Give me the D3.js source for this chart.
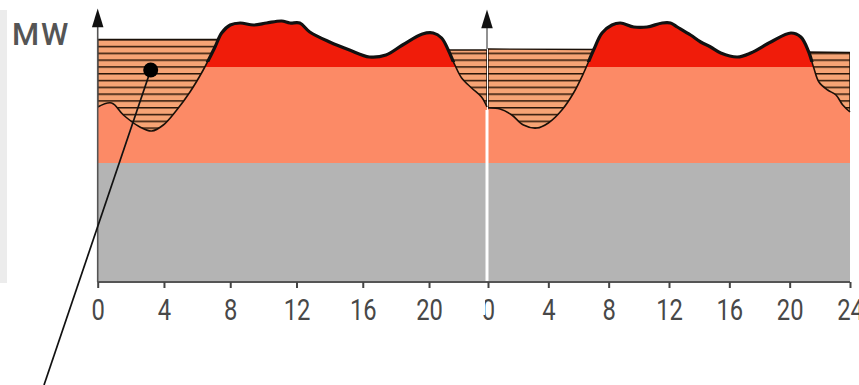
<!DOCTYPE html>
<html>
<head>
<meta charset="utf-8">
<script src="https://cdn.jsdelivr.net/npm/d3@7"></script>
<style>
  body { margin: 0; background: #fff; }
  text { font-family: Roboto, "Liberation Sans", sans-serif; }
</style>
</head>
<body>
<script>
// load curve, day 1 (ends a bit before 24h where day 2 starts)
const hours1 = [0, 0.84, 1.55, 2.55, 3.26, 3.96, 4.77, 5.57, 6.37, 7.08, 7.48, 8.0, 8.6, 9.4, 10.2, 11.1, 11.6, 12.2, 12.8, 14.0, 15.2, 16.4, 17.4, 18.4, 19.6, 20.25, 20.76, 21.16, 21.56, 21.97, 22.57, 23.17, 23.5];
const load1 = [175, 179, 167, 155, 151, 157, 172, 190, 212, 235, 249, 257, 259, 257, 259, 261, 259, 259, 250, 240, 232, 225, 227, 237, 248, 249, 244, 232, 217, 204, 194, 185, 175];

// load curve, day 2
const hours2 = [0, 0.8, 1.58, 2.35, 3.24, 4.0, 4.9, 5.67, 6.34, 7.0, 7.56, 8.22, 8.78, 9.66, 10.55, 11.55, 12.1, 12.55, 13.43, 14.1, 14.76, 15.43, 16.54, 17.42, 18.75, 20.08, 20.74, 21.24, 21.6, 21.94, 22.52, 23.07, 23.52, 24];
const load2 = [174, 173, 167, 157, 154, 159, 172, 189, 209, 232, 249, 257, 259, 255, 255, 259, 259, 255, 247, 240, 235, 229, 225, 229, 240, 249, 245, 231, 214, 200, 192, 187, 177, 170];

// reference level (top of the hatched band), night periods only (null = gap)
const refHours1 = [0, 7.6, 14, 20.8, 23.5];
const refLevel1 = [242.5, 242.5, null, 232, 232];
const refHours2 = [0, 7.2, 14, 21, 24];
const refLevel2 = [233, 232.5, null, 230, 229.5];

// flat levels
const baseLoad = 119;
const midLoad = 215;

const ticks1 = [0, 4, 8, 12, 16, 20];
const ticks2 = [0, 4, 8, 12, 16, 20, 24];

// pointer annotation (day 1 hours, MW)
const pointer = [{ h: 3.2, v: 212 }, { h: -3.24, v: -103 }];

const W = 859, H = 385;
const svg = d3.select("body").append("svg")
  .attr("width", W)
  .attr("height", H);

const x1 = d3.scaleLinear().domain([0, 24]).range([97.7, 495.3]);
const x2 = d3.scaleLinear().domain([0, 24]).range([488, 850]);
const y = d3.scaleLinear().domain([0, 260]).range([282, 22]);

// hatch pattern
const defs = svg.append("defs");
const pat = defs.append("pattern")
  .attr("id", "hatch")
  .attr("patternUnits", "userSpaceOnUse")
  .attr("width", 10)
  .attr("height", 6.8)
  .attr("y", 39);
pat.append("rect").attr("width", 10).attr("height", 6.8).attr("fill", "#f6a475");
pat.append("rect").attr("width", 10).attr("height", 1.5).attr("fill", "#2a1608");

// clip for the thick top outline
defs.append("clipPath").attr("id", "topband")
  .append("rect").attr("x", 0).attr("y", 0).attr("width", W).attr("height", y(220));

// light panel on the far left
svg.append("rect")
  .attr("x", 0).attr("y", 10)
  .attr("width", 7).attr("height", 273)
  .attr("fill", "#ececec");

const days = [
  { id: 1, x: x1, hours: hours1, load: load1, refH: refHours1, refV: refLevel1 },
  { id: 2, x: x2, hours: hours2, load: load2, refH: refHours2, refV: refLevel2 }
];

const smooth = d3.curveCatmullRom.alpha(0.5);

days.forEach(day =>
{
  const pts = day.hours.map((h, i) => ({ h: h, v: day.load[i] }));
  const refPts = day.refH.map((h, i) => ({ h: h, v: day.refV[i] }));
  const hMin = d3.min(day.hours), hMax = d3.max(day.hours);
  const left = day.x(hMin), right = day.x(hMax);

  const under = d3.area().curve(smooth).x(d => day.x(d.h)).y0(y(0)).y1(d => y(d.v));
  const above = d3.area().curve(smooth).x(d => day.x(d.h)).y0(0).y1(d => y(d.v));

  defs.append("clipPath").attr("id", "under" + day.id).append("path").attr("d", under(pts));
  defs.append("clipPath").attr("id", "above" + day.id).append("path").attr("d", above(pts));

  const g = svg.append("g");

  // gray base band
  g.append("rect")
    .attr("x", left).attr("y", y(baseLoad))
    .attr("width", right - left).attr("height", y(0) - y(baseLoad))
    .attr("fill", "#b4b4b4");

  // salmon band under the curve
  g.append("rect")
    .attr("clip-path", `url(#under${ day.id })`)
    .attr("x", left).attr("y", 0)
    .attr("width", right - left).attr("height", y(baseLoad))
    .attr("fill", "#fc8a66");

  // red peak above mid level
  g.append("rect")
    .attr("clip-path", `url(#under${ day.id })`)
    .attr("x", left).attr("y", 0)
    .attr("width", right - left).attr("height", y(midLoad))
    .attr("fill", "#f01c0a");

  // hatched band between reference level and curve
  const refArea = d3.area()
    .defined(d => d.v !== null)
    .x(d => day.x(d.h)).y0(y(0)).y1(d => y(d.v));
  g.append("path")
    .attr("clip-path", `url(#above${ day.id })`)
    .attr("d", refArea(refPts))
    .attr("fill", "url(#hatch)")
    .attr("stroke", "#1a1008")
    .attr("stroke-width", 1.4);

  const line = d3.line().curve(smooth).x(d => day.x(d.h)).y(d => y(d.v));
  g.append("path")
    .attr("d", line(pts))
    .attr("fill", "none")
    .attr("stroke", "#1a1008")
    .attr("stroke-width", 1.6)
    .attr("stroke-linejoin", "round");
  g.append("path")
    .attr("clip-path", "url(#topband)")
    .attr("d", line(pts))
    .attr("fill", "none")
    .attr("stroke", "#111")
    .attr("stroke-width", 3.2)
    .attr("stroke-linejoin", "round");
});

// white divider between the days
svg.append("line")
  .attr("x1", x2(0) - 1).attr("x2", x2(0) - 1)
  .attr("y1", y(load2[0]) + 2).attr("y2", y(0))
  .attr("stroke", "#fff")
  .attr("stroke-width", 3);

// y axis of day 1
svg.append("line")
  .attr("x1", x1(0)).attr("x2", x1(0))
  .attr("y1", 26).attr("y2", y(0))
  .attr("stroke", "#555")
  .attr("stroke-width", 1.6);
// y axis stub of day 2
svg.append("line")
  .attr("x1", x2(0) - 1).attr("x2", x2(0) - 1)
  .attr("y1", 28).attr("y2", y(refLevel2[0]))
  .attr("stroke", "#777")
  .attr("stroke-width", 1.6);

const arrow = d3.symbol().type(d3.symbolTriangle).size(90);
[[x1(0), 21], [x2(0) - 1, 22]].forEach(p =>
{
  svg.append("path")
    .attr("d", arrow())
    .attr("transform", `translate(${ p[0] },${ p[1] }) scale(0.8,1.5)`)
    .attr("fill", "#111");
});

// x axes
function drawAxis(scale, values)
{
  const ax = svg.append("g")
    .attr("transform", `translate(0,${ y(0) })`)
    .call(d3.axisBottom(scale).tickValues(values).tickSize(6).tickSizeOuter(0).tickPadding(11));
  ax.select(".domain").remove();
  ax.selectAll(".tick line").attr("stroke", "#444").attr("stroke-width", 2);
  ax.selectAll(".tick text")
    .attr("fill", "#484848")
    .style("font-size", "29px")
    .attr("transform", "scale(0.82,1)");
  return ax;
}
svg.append("line")
  .attr("x1", x1(0)).attr("x2", x2(24))
  .attr("y1", y(0)).attr("y2", y(0))
  .attr("stroke", "#555")
  .attr("stroke-width", 2);
drawAxis(x1, ticks1);
drawAxis(x2, ticks2);

// the day-2 zero is partly hidden behind the divider
svg.append("rect")
  .attr("x", x2(0) - 9).attr("y", 296)
  .attr("width", 6).attr("height", 19)
  .attr("fill", "#fff");

// unit label
svg.append("text")
  .attr("x", 12).attr("y", 45)
  .attr("fill", "#555")
  .style("font-size", "31px")
  .style("font-weight", 500)
  .style("letter-spacing", "2px")
  .text("MW");

// pointer line with dot
svg.append("line")
  .attr("x1", x1(pointer[0].h)).attr("y1", y(pointer[0].v))
  .attr("x2", x1(pointer[1].h)).attr("y2", y(pointer[1].v))
  .attr("stroke", "#111")
  .attr("stroke-width", 1.7);
svg.append("circle")
  .attr("cx", x1(pointer[0].h)).attr("cy", y(pointer[0].v))
  .attr("r", 7.5)
  .attr("fill", "#000");
</script>
</body>
</html>
